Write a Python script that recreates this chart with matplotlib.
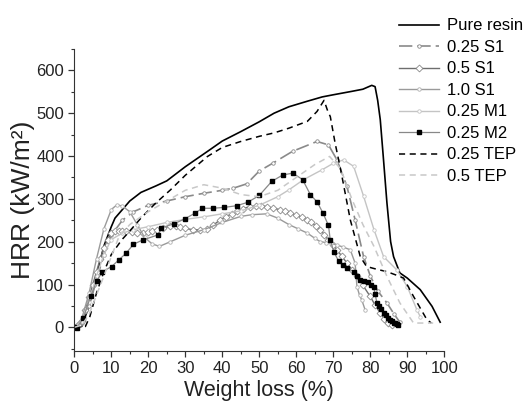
import numpy as np
import matplotlib.pyplot as plt

plt.rcParams['font.family'] = ['Liberation Sans', 'DejaVu Sans']

# Pure resin
pure_x = [0, 2, 4, 6, 8, 10, 11, 13, 15, 18, 22, 25, 30, 36.7, 40, 45, 50, 54, 58, 63, 67, 70, 75,
          78, 80.4, 81.3, 82, 82.7, 83.5, 84.5, 85.5, 86.3, 88, 90, 93.5, 96.7, 98.9]
pure_y = [0, 2, 50, 120, 190, 235, 255, 275, 295, 315, 330, 342, 375, 415, 435, 457, 480, 500, 515,
          528, 538, 543, 551, 556, 565, 562, 530, 485, 400, 291, 200, 165, 127, 115, 88, 49, 12]

# 0.25 S1
s1a_x = [0, 2, 4, 6, 8, 10, 13, 16, 20, 25, 30, 35, 40, 43, 46.6, 50, 53.8, 59, 65.6, 68.7, 71,
         73.7, 75.9, 78.2, 80, 82, 84.5, 86.5, 88]
s1a_y = [0, 10, 50, 110, 170, 215, 250, 270, 285, 295, 305, 313, 320, 325, 335, 365, 384, 411, 434,
         426, 391, 329, 251, 165, 120, 85, 57, 30, 12]

# 0.5 S1
s1b_x = [0, 1, 2, 3, 4, 5, 6, 7, 8, 9, 10, 11, 12, 13, 14, 15.5, 17, 18.5, 20, 21, 22.3, 24, 26,
         27.5, 28.6, 30, 32, 34, 35.8, 37.5, 39.4, 41, 42.5, 44, 45.5, 47.5, 49, 50.5, 52, 53.8, 55.5,
         57, 58.3, 60, 61.5, 62.9, 64, 65.3, 66.5, 67.6, 68.7, 69.8, 71, 72.3, 73.7, 75, 76.4, 78,
         80, 81.3, 82.7, 83.8, 84.9, 86]
s1b_y = [0, 5, 15, 40, 70, 100, 130, 160, 185, 205, 220, 224, 225, 225, 224, 222, 220, 220, 222, 225,
         228, 232, 236, 236, 234, 231, 228, 228, 229, 238, 251, 258, 265, 271, 277, 282, 283, 284,
         282, 278, 275, 271, 267, 262, 257, 251, 245, 237, 228, 216, 204, 193, 181, 166, 150, 135,
         119, 98, 72, 52, 33, 20, 10, 5]

# 1.0 S1
s1c_x = [0, 2, 4, 6, 8, 10, 11.5, 13, 15, 17, 19, 21, 23, 26, 30, 35, 40, 45, 48, 52, 55, 58, 60.5,
         63, 65, 66.5, 68, 69.5, 71, 72.5, 74.6, 75.9, 76.4, 77.1, 77.7, 78.6]
s1c_y = [0, 20, 80, 160, 230, 275, 286, 283, 270, 240, 210, 195, 189, 200, 215, 228, 245, 259, 263,
         265, 255, 240, 230, 220, 208, 200, 198, 196, 192, 188, 181, 150, 95, 75, 64, 41]

# 0.25 M1
m1_x = [0, 2, 4, 6, 8, 10, 13, 16, 20, 25, 30, 35, 40, 45, 50, 55, 58, 62, 67, 70, 72.8, 75.5, 78.2,
        81, 83.6, 87.2, 90, 92.6, 93.5]
m1_y = [0, 15, 60, 120, 170, 205, 220, 228, 235, 245, 252, 258, 265, 272, 285, 305, 321, 345, 368,
        383, 391, 376, 306, 228, 165, 134, 95, 41, 25]

# 0.25 M2
m2_x = [0, 0.6, 2.4, 4.4, 6.1, 7.6, 10.1, 12.1, 14, 16, 18.5, 22.7, 23.4, 27, 29.8, 32.7, 34.6, 37.4,
        40.5, 43.9, 46.9, 50, 53.4, 56.4, 59.1, 61.7, 63.8, 65.7, 67.2, 68.7, 69.2, 70.2, 71.5, 72.6,
        73.8, 75.5, 76.4, 77.3, 78.4, 79.5, 80.3, 80.9, 81.3, 81.8, 82.4, 83, 83.6, 84.2, 84.8, 85.3,
        85.8, 86.3, 86.8, 87.2, 87.6]
m2_y = [0, -2, 21, 72, 109, 130, 142, 158, 173, 194, 204, 216, 232, 242, 253, 267, 278, 278, 280, 284,
        292, 308, 341, 356, 360, 345, 310, 292, 267, 238, 203, 175, 154, 145, 138, 130, 120, 111,
        109, 107, 100, 95, 78, 57, 50, 42, 33, 28, 22, 18, 14, 11, 9, 7, 6]

# 0.25 TEP
tep1_x = [0, 3, 4.2, 6, 8, 10, 12.8, 15, 18, 22, 26, 30, 36, 40, 45, 50, 54, 58, 63, 65.6, 67.5,
          68.5, 69.2, 70.5, 72, 74.6, 77.3, 79, 82, 84.5, 87, 89, 91.7, 95.3, 96.5]
tep1_y = [0, 2, 25, 80, 130, 170, 204, 225, 255, 290, 321, 355, 399, 420, 434, 446, 454, 465, 481,
          504, 530, 505, 492, 430, 368, 251, 165, 142, 135, 130, 122, 115, 72, 18, 10]

# 0.5 TEP
tep2_x = [0, 2, 4, 8, 12, 15, 20, 25, 30, 35, 40, 45, 50, 55, 60, 65, 69, 72, 75, 78, 81, 84.5, 88,
          91.7, 97]
tep2_y = [0, 5, 30, 120, 210, 240, 270, 295, 320, 333, 325, 310, 305, 320, 350, 380, 399, 370, 300,
          240, 189, 119, 57, 10, 10]

fig = plt.figure(figsize=(5.27, 4.08), dpi=100)
ax = fig.add_axes([0.141, 0.14, 0.702, 0.74])

ax.plot(pure_x, pure_y, color='black', lw=1.2, label='Pure resin')
ax.plot(s1a_x, s1a_y, color='#8a8a8a', lw=1.2, dashes=(8, 3), marker='o', ms=2.5,
        mfc='white', mec='#8a8a8a', mew=0.6, label='0.25 S1')
ax.plot(s1b_x, s1b_y, color='#6e6e6e', lw=1.0, marker='D', ms=3.5, mfc='white',
        mec='#8a8a8a', mew=0.6, label='0.5 S1')
ax.plot(s1c_x, s1c_y, color='#9a9a9a', lw=1.0, marker='o', ms=2.5, mfc='white',
        mec='#b0b0b0', mew=0.6, label='1.0 S1')
ax.plot(m1_x, m1_y, color='#c4c4c4', lw=1.0, marker='o', ms=2.5, mfc='white',
        mec='#c4c4c4', mew=0.6, label='0.25 M1')
ax.plot(m2_x, m2_y, color='#888888', lw=0.9, marker='s', ms=3.2, mfc='black',
        mec='black', label='0.25 M2')
ax.plot(tep1_x, tep1_y, color='black', lw=1.1, dashes=(4, 3), label='0.25 TEP')
ax.plot(tep2_x, tep2_y, color='#c8c8c8', lw=1.1, dashes=(4, 3), label='0.5 TEP')

ax.set_xlim(0, 100)
ax.set_ylim(-55, 650)
ax.set_xticks(np.arange(0, 101, 10))
ax.set_xticks(np.arange(5, 100, 10), minor=True)
ax.set_yticks(np.arange(0, 601, 100))
ax.set_yticks(np.arange(-50, 651, 50), minor=True)
for s in ['top', 'right']:
    ax.spines[s].set_visible(False)
ax.spines['left'].set_color('#333333')
ax.spines['bottom'].set_color('#333333')
ax.tick_params(which='major', length=4, width=0.9, labelsize=12, colors='#333333',
               labelcolor='#222222')
ax.tick_params(which='minor', length=2.5, width=0.8, colors='#333333')

ax.set_xlabel('Weight loss (%)', fontsize=15.5, color='#222222', labelpad=3)
ax.set_ylabel('HRR (kW/m²)', fontsize=19, color='#222222', labelpad=1)

fig.legend(loc='upper left', bbox_to_anchor=(0.757, 0.955), frameon=False, fontsize=12,
           handlelength=2.4, handletextpad=0.5, labelspacing=0.39, numpoints=1, borderpad=0,
           borderaxespad=0)

fig.savefig('out.png', dpi=100)
